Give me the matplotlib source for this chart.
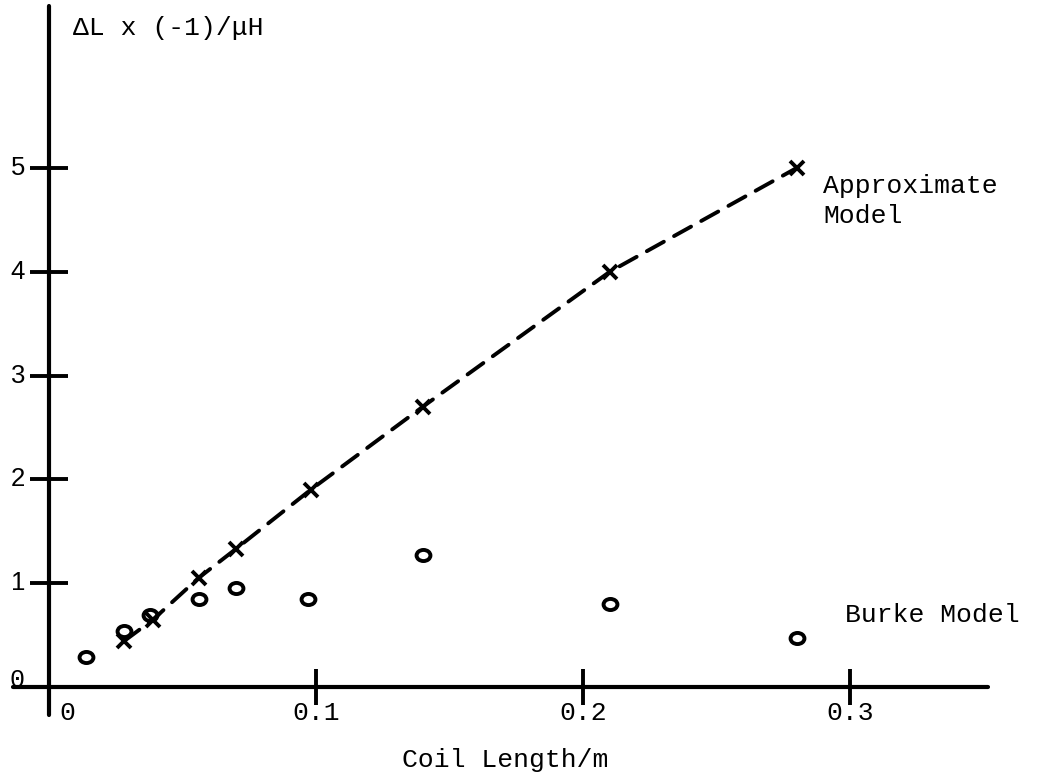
import matplotlib
matplotlib.use("Agg")
import matplotlib.pyplot as plt
from matplotlib.path import Path
from matplotlib.transforms import Affine2D

# Coil length (m) and inductance change (-dL, microhenry) for both models
length_approx = [0.028, 0.039, 0.056, 0.070, 0.098, 0.14, 0.21, 0.28]
dl_approx = [0.44, 0.65, 1.05, 1.33, 1.90, 2.70, 4.00, 5.00]

length_burke = [0.014, 0.028, 0.038, 0.056, 0.070, 0.097, 0.14, 0.21, 0.28]
dl_burke = [0.29, 0.54, 0.69, 0.85, 0.95, 0.85, 1.27, 0.80, 0.47]

x_ticks = [0.1, 0.2, 0.3]
x_tick_labels = ["0.1", "0.2", "0.3"]
y_ticks = [1, 2, 3, 4, 5]
y_tick_labels = ["1", "2", "3", "4", "5"]

MONO = "Liberation Mono"
SANS = "Liberation Sans"
INK = "black"

fig = plt.figure(figsize=(10.43, 7.80), dpi=100)
ax = fig.add_axes([0, 0, 1, 1])
ax.set_xlim(-0.01835, 0.37228)
ax.set_ylim(-0.896, 6.6185)

# Axes drawn as crossing lines through the origin
for side in ("top", "right"):
    ax.spines[side].set_visible(False)
ax.spines["left"].set_position(("data", 0))
ax.spines["bottom"].set_position(("data", 0))
ax.spines["left"].set_bounds(-0.27, 6.56)
ax.spines["bottom"].set_bounds(-0.0135, 0.3517)
for side in ("left", "bottom"):
    ax.spines[side].set_linewidth(3.0)
    ax.spines[side].set_color(INK)
    ax.spines[side].set_capstyle("round")

ax.set_xticks(x_ticks)
ax.set_yticks(y_ticks)
ax.tick_params(axis="both", direction="inout", width=2.8, color=INK,
               labelbottom=False, labelleft=False)
ax.tick_params(axis="x", length=26)
ax.tick_params(axis="y", length=28)
ax.patch.set_visible(False)

# Tick labels
for v, lab in zip(y_ticks, y_tick_labels):
    ax.text(-0.0090, v, lab, ha="right", va="center", fontsize=18.5,
            family=SANS, color=INK)
ax.text(-0.0090, 0.0, "0", ha="right", va="baseline", fontsize=18,
        family=MONO, color=INK)
for v, lab in zip(x_ticks, x_tick_labels):
    ax.text(v, -0.32, lab, ha="center", va="baseline", fontsize=19,
            family=MONO, color=INK)
ax.text(0.0040, -0.32, "0", ha="left", va="baseline", fontsize=19,
        family=MONO, color=INK)

# Axis titles
ax.text(0.0090, 6.28, "\u0394L x (-1)/\u03bcH", ha="left", va="baseline",
        fontsize=19, family=MONO, color=INK)
ax.text(0.1708, -0.77, "Coil Length/m", ha="center", va="baseline",
        fontsize=19, family=MONO, color=INK)

# Approximate model: crosses joined by a dashed line
ax.plot(length_approx, dl_approx, color=INK, linestyle=(0, (5, 3)),
        linewidth=2.8, dash_capstyle="round", marker="x", markersize=10.5,
        markeredgewidth=2.8, zorder=3)

# Burke model: open, slightly flattened circles
ellipse = Path.unit_circle().transformed(Affine2D().scale(1.0, 0.8))
ax.plot(length_burke, dl_burke, linestyle="none", marker=ellipse,
        markersize=10, markerfacecolor="none", markeredgecolor=INK,
        markeredgewidth=2.8, zorder=3)

# Series labels
ax.text(0.2899, 4.47, "Approximate\nModel", ha="left", va="baseline",
        fontsize=19, family=MONO, color=INK, linespacing=1.33)
ax.text(0.2981, 0.626, "Burke Model", ha="left", va="baseline",
        fontsize=19, family=MONO, color=INK)

fig.savefig("out.png", dpi=100, facecolor="white")
